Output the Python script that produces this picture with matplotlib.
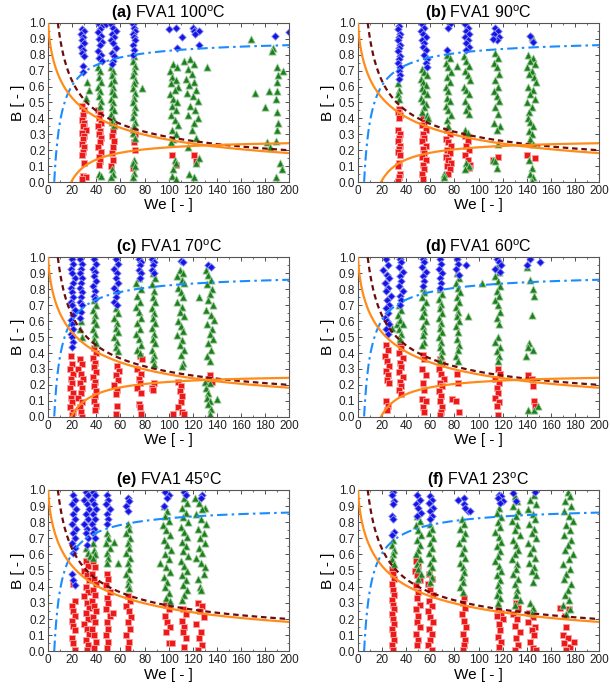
import numpy as np
import matplotlib
matplotlib.use("Agg")
import matplotlib.pyplot as plt
from matplotlib.ticker import MultipleLocator, FormatStrFormatter

plt.rcParams['font.family'] = ['Liberation Sans', 'DejaVu Sans']
plt.rcParams['mathtext.fontset'] = 'custom'
plt.rcParams['mathtext.rm'] = 'Liberation Sans'
plt.rcParams['mathtext.bf'] = 'Liberation Sans:bold'

letters = ['a', 'b', 'c', 'd', 'e', 'f']
temps = ['100', '90', '70', '60', '45', '23']

# ---------------- data (We, B) ----------------
a_blue = [(28,.96),(30,.95),(27,.93),(29,.91),(28,.89),(30,.87),(27,.85),(29,.83),(28,.81),(30,.79),(29,.73),(29,.69),
          (42,.99),(45,.98),(48,.99),(43,.96),(41,.94),(44,.92),(42,.90),(45,.88),(43,.86),(41,.82),(44,.80),(42,.78),(45,.76),
          (52,.99),(54,.97),(56,.95),(53,.93),(55,.91),(52,.89),(54,.87),(56,.84),(53,.81),(55,.79),(54,.76),(53,.74),
          (70,.99),(71,.97),(72,.95),(70,.93),(71,.91),(72,.89),(70,.86),(71,.83),(70,.80),
          (100,.96),(106,.97),(111,.91),(107,.84),(120,.97),(121,.95),(125,.95),(122,.93),(125,.86),(188,.92),(200,.94)]
a_green = [(32,.63),(34,.58),(31,.53),
           (41,.72),(43,.70),(42,.66),(44,.63),(41,.60),(43,.57),(42,.54),(44,.51),(43,.48),(42,.05),(44,.04),
           (52,.72),(54,.70),(53,.67),(55,.64),(52,.62),(54,.60),(53,.57),(55,.55),(52,.52),(54,.50),(53,.47),(55,.45),
           (52,.43),(54,.40),(53,.38),(55,.36),(53,.08),(54,.05),(52,.03),
           (71,.79),(70,.76),(72,.73),(71,.70),(70,.67),(72,.64),(71,.62),(70,.59),(72,.56),(71,.53),(70,.50),(72,.47),
           (71,.44),(70,.41),(72,.38),(71,.35),(70,.31),(72,.28),(71,.14),(70,.12),(72,.10),(71,.06),(70,.03),(78,.59),
           (101,.70),(104,.74),(107,.72),(103,.66),(106,.64),(102,.62),(108,.60),(105,.58),(101,.55),(104,.52),(107,.50),
           (103,.48),(106,.45),(102,.42),(105,.39),(108,.36),(103,.33),(106,.30),(104,.27),(102,.25),(105,.14),(106,.12),
           (104,.08),(103,.04),(106,.02),
           (113,.76),(118,.77),(121,.74),(116,.71),(119,.68),(114,.65),(121,.63),(117,.61),(123,.58),(115,.56),(120,.54),
           (124,.51),(118,.48),(122,.45),(116,.42),(124,.40),(121,.37),(119,.33),(123,.28),(116,.22),(125,.15),(123,.12),
           (117,.05),(121,.03),
           (132,.72),(168,.90),(172,.56),(180,.47),(183,.57),(182,.25),(184,.22),(187,.84),(186,.82),(190,.72),(191,.67),
           (190,.63),(190,.57),(189,.52),(190,.44),(191,.37),(190,.33),(189,.26),(189,.03),(195,.70),(192,.12),(194,.08)]
a_red = [(28,.48),(30,.45),(29,.42),(28,.39),(30,.37),(29,.35),(31,.33),(28,.31),(30,.29),(29,.27),(28,.24),(30,.22),
         (29,.19),(28,.17),(30,.12),(29,.04),(31,.03),(28,.02),
         (41,.45),(43,.43),(42,.40),(44,.37),(41,.35),(43,.32),(42,.30),(44,.28),(43,.25),(41,.22),(44,.19),(42,.16),
         (43,.13),(42,.11),
         (53,.38),(55,.35),(54,.32),(53,.29),(55,.26),(54,.22),(53,.18),(54,.14),(52,.10),
         (70,.33),(72,.30),(71,.25),(72,.20),(70,.09),
         (103,.17),(106,.11),(121,.17),(123,.13)]

b_blue = [(34,.98),(33,.96),(35,.93),(34,.91),(33,.89),(35,.86),(34,.84),(33,.82),(35,.79),(34,.77),(33,.75),(35,.72),
          (34,.70),(35,.67),(34,.65),
          (53,.99),(55,.97),(52,.95),(54,.93),(56,.91),(53,.89),(55,.87),(54,.85),(56,.83),(55,.80),(57,.77),(56,.75),(57,.72),
          (76,.99),(75,.97),(74,.83),
          (89,.99),(91,.97),(90,.95),(92,.93),(89,.91),(91,.89),(90,.87),(92,.85),(90,.83),
          (114,.97),(116,.95),(113,.93),(117,.91),(115,.89),(112,.90),(143,.92),(145,.88)]
b_green = [(33,.62),(34,.58),(33,.55),(34,.52),
           (53,.71),(55,.69),(57,.67),(52,.65),(54,.63),(56,.61),(53,.59),(55,.57),(57,.55),(52,.53),(54,.51),(56,.49),
           (55,.47),(53,.44),(57,.42),(58,.40),
           (74,.80),(76,.78),(73,.75),(75,.72),(77,.69),(74,.66),(76,.63),(73,.60),(75,.57),(74,.53),(76,.51),(73,.48),
           (75,.45),(77,.42),(74,.39),(75,.35),(71,.05),(71,.03),(82,.73),
           (88,.79),(90,.76),(92,.73),(89,.70),(91,.67),(93,.64),(88,.60),(90,.58),(92,.55),(89,.51),(91,.48),(90,.45),
           (92,.43),(89,.33),(91,.31),(90,.12),(92,.10),(89,.08),
           (114,.81),(116,.78),(113,.75),(115,.72),(117,.68),(114,.64),(116,.60),(113,.57),(115,.54),(117,.51),(114,.47),
           (116,.43),(113,.37),(118,.35),(115,.33),(112,.14),(114,.13),(115,.09),(116,.24),
           (141,.80),(145,.78),(143,.76),(147,.74),(140,.72),(144,.70),(142,.68),(146,.66),(148,.63),(141,.60),(145,.58),
           (143,.55),(147,.52),(140,.50),(144,.47),(142,.44),(141,.40),(143,.38),(145,.35),(142,.32),(144,.30),(143,.27),
           (145,.24),(142,.14),(144,.09),(143,.05),(145,.03),(144,.01),(144,.91)]
b_red = [(34,.46),(33,.44),(35,.42),(34,.40),(33,.33),(35,.30),(34,.28),(33,.26),(35,.23),(34,.21),(33,.19),(35,.17),
         (34,.12),(33,.10),(35,.05),(34,.03),(33,.01),
         (54,.41),(55,.38),(53,.36),(56,.33),(54,.30),(55,.28),(53,.26),(56,.23),(54,.21),(55,.18),(53,.16),(56,.14),
         (54,.11),(55,.08),(53,.05),(54,.02),
         (74,.33),(76,.30),(73,.27),(75,.25),(77,.23),(74,.20),(76,.18),(73,.16),(75,.14),(77,.12),(74,.10),(76,.08),(75,.05),
         (89,.29),(91,.26),(90,.23),(92,.20),(89,.17),(91,.14),(93,.11),(92,.09),
         (112,.14),(116,.16),(140,.17),(147,.15)]

c_blue = [(20,.99),(21,.96),(19,.93),(20,.90),(22,.87),(21,.84),(19,.81),(20,.78),(21,.75),(19,.72),(20,.70),(22,.67),
          (21,.64),(19,.61),(20,.58),(21,.55),(19,.52),(20,.50),(21,.47),(20,.44),
          (26,.99),(28,.96),(27,.93),(26,.90),(28,.87),(27,.84),(26,.81),(28,.78),(27,.75),(26,.72),(28,.70),(27,.66),(26,.62),
          (38,.99),(40,.96),(37,.93),(39,.91),(38,.88),(40,.85),(37,.82),(39,.79),(38,.76),(39,.74),
          (56,.99),(58,.96),(55,.93),(57,.90),(56,.87),(58,.84),(55,.81),(57,.78),(56,.75),(55,.72),(57,.70),
          (75,.99),(77,.97),(76,.95),(75,.92),(77,.90),(76,.87),
          (86,.99),(88,.97),(87,.95),(86,.92),(88,.90),(110,.98),(112,.97),(133,.95),(135,.94)]
c_green = [(27,.60),(26,.55),(28,.50),
           (38,.73),(40,.70),(37,.67),(39,.64),(38,.61),(40,.58),(37,.55),(39,.52),(38,.49),(40,.46),
           (56,.68),(58,.65),(55,.62),(57,.59),(56,.56),(58,.53),(55,.50),(57,.47),(56,.44),(58,.41),
           (75,.87),(73,.84),(77,.80),(74,.76),(76,.72),(73,.69),(75,.66),(77,.62),(74,.59),(76,.55),(73,.52),(75,.49),
           (77,.45),(74,.42),(76,.40),
           (87,.90),(89,.87),(86,.83),(88,.79),(87,.75),(89,.72),(86,.68),(88,.65),(87,.62),(89,.59),(86,.56),(88,.52),
           (87,.49),(89,.46),(86,.42),(88,.39),(87,.36),(88,.33),
           (109,.92),(112,.90),(107,.88),(111,.86),(113,.84),(108,.81),(110,.78),(112,.75),(107,.72),(111,.69),(109,.66),
           (113,.63),(108,.60),(110,.57),(112,.54),(107,.51),(111,.48),(109,.45),(113,.42),(110,.39),(112,.34),(111,.32),
           (131,.92),(133,.89),(135,.86),(132,.83),(136,.80),(134,.77),(125,.75),(133,.73),(137,.70),(131,.67),(135,.64),
           (138,.61),(132,.58),(136,.55),(134,.52),(137,.49),(133,.46),(135,.42),(132,.38),(134,.35),(130,.22),(131,.18),
           (133,.15),(132,.12),(134,.10),(133,.08),(135,.05),(134,.02),(140,.11),(134,.21)]
c_red = [(19,.38),(20,.33),(18,.30),(21,.27),(19,.24),(20,.21),(18,.18),(21,.15),(19,.12),(20,.09),(18,.06),(21,.03),(20,.01),
         (26,.36),(28,.33),(25,.30),(27,.27),(29,.24),(26,.21),(28,.18),(27,.15),(25,.12),(28,.09),(26,.06),(27,.03),(28,.00),
         (38,.43),(40,.40),(37,.37),(39,.34),(38,.31),(40,.28),(37,.25),(39,.22),(38,.19),(40,.16),(39,.13),(38,.10),
         (40,.07),(39,.04),
         (57,.32),(59,.29),(56,.26),(58,.23),(55,.20),(57,.17),(56,.14),(57,.07),(56,.02),
         (76,.38),(78,.36),(74,.30),(77,.27),(75,.24),(76,.21),(74,.18),(77,.15),(75,.08),(76,.06),(77,.02),
         (88,.21),(86,.18),(87,.17),
         (108,.22),(110,.19),(109,.16),(111,.13),(110,.09),(108,.06),(104,.02),(111,.03),(113,.02),
         (134,.26),(133,.24),(136,.22)]

d_blue = [(23,.99),(25,.95),(21,.92),(24,.89),(26,.87),(22,.84),(25,.81),(23,.79),(27,.76),(24,.73),(26,.70),(23,.68),
          (25,.65),(22,.62),(24,.60),(26,.58),(23,.55),(25,.52),
          (35,.99),(36,.97),(34,.94),(37,.91),(35,.88),(36,.85),(34,.82),(37,.79),(35,.76),(36,.73),(35,.70),
          (54,.99),(55,.97),(53,.94),(56,.91),(54,.88),(55,.85),(54,.82),
          (68,.99),(69,.96),(67,.93),(70,.90),(68,.87),(69,.84),(68,.81),
          (82,.99),(83,.96),(81,.93),(84,.89),(90,.95),
          (115,.99),(117,.97),(119,.95),(114,.93),(118,.91),(140,.95),(143,.99),(151,.97)]
d_green = [(28,.56),(32,.58),(34,.70),(36,.67),(33,.64),(35,.61),(37,.58),(34,.55),(36,.52),(35,.49),
           (54,.81),(55,.78),(53,.75),(56,.72),(54,.69),(55,.66),(53,.63),(56,.60),(54,.57),(55,.54),(54,.51),(55,.47),(53,.45),
           (68,.80),(70,.77),(67,.74),(69,.71),(68,.68),(70,.65),(67,.62),(69,.59),(68,.56),(70,.53),(67,.50),(69,.47),
           (68,.44),(70,.41),(69,.38),(68,.35),
           (82,.90),(84,.87),(81,.84),(83,.81),(85,.78),(82,.75),(84,.72),(81,.69),(83,.66),(82,.63),(84,.60),(81,.57),
           (83,.53),(82,.49),(84,.45),(83,.42),(81,.38),(83,.35),(91,.63),
           (115,.94),(117,.91),(114,.88),(116,.85),(118,.82),(115,.79),(117,.76),(114,.73),(116,.70),(118,.66),(115,.62),
           (117,.58),(116,.50),(114,.47),(118,.44),(115,.41),(117,.38),(116,.35),(103,.84),
           (140,.94),(143,.86),(145,.80),(146,.76),(144,.64),(142,.46),(141,.44),(145,.42),(139,.38),(141,.04),(146,.04),(149,.07)]
d_red = [(23,.45),(25,.42),(22,.38),(24,.35),(26,.32),(23,.29),(25,.26),(24,.23),(26,.21),(23,.10),(25,.07),(24,.04),
         (35,.46),(36,.43),(34,.40),(37,.37),(35,.34),(36,.31),(34,.28),(37,.25),(35,.22),(36,.19),(34,.17),(36,.14),
         (54,.39),(55,.36),(53,.30),(56,.26),(54,.21),(55,.17),(53,.11),(56,.10),(54,.06),(55,.03),
         (68,.36),(70,.33),(67,.30),(69,.27),(71,.24),(68,.21),(70,.19),(67,.16),(69,.13),(68,.10),(70,.06),(69,.03),(68,.01),
         (82,.27),(83,.21),(78,.11),(81,.10),(84,.03),
         (116,.30),(118,.27),(114,.24),(117,.21),(115,.18),(116,.15),(114,.12),(117,.09),(115,.07),(116,.01),
         (141,.26),(144,.24),(145,.19),(146,.10),(147,.07)]

e_blue = [(21,.97),(22,.94),(20,.91),(23,.88),(21,.85),(22,.82),(20,.79),(23,.76),(21,.73),(22,.70),(20,.67),(22,.64),
          (21,.61),(20,.48),(21,.44),(22,.41),
          (31,.99),(33,.97),(30,.94),(32,.91),(34,.88),(31,.85),(33,.82),(30,.79),(32,.76),(31,.73),(33,.70),(32,.66),
          (37,.99),(39,.97),(36,.94),(38,.91),(40,.88),(37,.85),(39,.82),(36,.79),(38,.76),(37,.73),(39,.70),
          (49,.97),(50,.94),(48,.91),(51,.88),(49,.85),(50,.82),(49,.79),
          (66,.95),(67,.93),(65,.90),(66,.87),
          (97,.99),(100,.97),(99,.95),(96,.90),(113,.99),(114,.97),(128,.97),(127,.95)]
e_green = [(31,.64),(33,.61),(35,.59),(37,.67),(38,.63),(39,.60),(37,.58),
           (49,.73),(50,.70),(48,.67),(51,.64),(49,.61),(50,.58),(49,.55),(55,.68),(58,.55),
           (66,.79),(67,.76),(65,.73),(68,.70),(66,.67),(67,.64),(65,.61),(68,.58),(66,.55),(67,.51),(65,.48),(67,.45),
           (66,.42),(67,.39),
           (96,.90),(99,.87),(97,.84),(100,.81),(95,.78),(98,.75),(101,.72),(96,.69),(99,.66),(102,.63),(97,.60),(100,.57),
           (93,.55),(98,.52),(101,.49),(96,.46),(99,.43),(97,.40),(100,.36),(98,.33),(101,.31),
           (113,.95),(115,.92),(111,.89),(114,.86),(112,.83),(116,.80),(110,.77),(113,.74),(115,.71),(111,.68),(114,.65),
           (112,.62),(116,.59),(110,.56),(113,.53),(115,.50),(111,.47),(114,.44),(112,.41),(115,.38),(113,.35),(111,.32),
           (122,.95),(125,.92),(130,.89),(128,.88),(123,.85),(127,.82),(131,.79),(124,.76),(129,.73),(126,.70),(130,.67),
           (125,.64),(128,.61),(123,.58),(127,.55),(130,.52),(129,.48),(124,.45),(126,.40),(127,.38)]
e_red = [(21,.42),(22,.31),(20,.28),(21,.25),(22,.22),(20,.19),(21,.16),(22,.13),(20,.08),(21,.05),(22,.01),
         (31,.56),(33,.53),(30,.50),(32,.47),(34,.44),(31,.40),(33,.37),(30,.34),(32,.30),(34,.27),(31,.24),(33,.20),
         (30,.17),(32,.14),(34,.11),(31,.07),(33,.04),(32,.01),
         (37,.56),(39,.52),(36,.48),(38,.45),(40,.42),(37,.38),(39,.35),(36,.31),(38,.28),(40,.25),(37,.21),(39,.18),
         (36,.14),(38,.10),(40,.06),(38,.02),
         (49,.48),(50,.45),(48,.41),(51,.37),(49,.33),(50,.30),(48,.26),(51,.22),(49,.18),(50,.14),(48,.10),(50,.06),
         (49,.02),(54,.24),
         (66,.34),(68,.31),(65,.28),(67,.25),(69,.21),(66,.18),(68,.14),(65,.10),(67,.06),(66,.02),
         (98,.29),(100,.26),(97,.22),(99,.18),(101,.15),(98,.12),(100,.05),(103,.05),
         (112,.26),(114,.23),(111,.19),(113,.15),(112,.12),(114,.08),(113,.03),
         (124,.30),(128,.28),(126,.25),(129,.21),(123,.17),(127,.12),(125,.08),(128,.04),(124,.01)]

f_blue = [(29,.99),(28,.97),(30,.93),(29,.91),(28,.84),(29,.82),(30,.74),(28,.72),
          (49,.97),(51,.94),(48,.91),(50,.89),(52,.86),(49,.84),
          (60,.96),(61,.94),(59,.92),(62,.89),(60,.87),(61,.84),(60,.82),
          (83,.94),(88,.95),(88,.91),(91,.87),(93,.87),(89,.89),
          (117,.97),(119,.96),(116,.95),(120,.93),(118,.92),(129,.98),(131,.93),(147,.99)]
f_green = [(29,.69),(28,.66),(30,.63),(29,.60),(28,.57),(30,.54),
           (49,.84),(51,.81),(48,.78),(50,.75),(52,.72),(49,.69),(51,.66),(50,.63),(48,.60),(51,.57),(49,.54),(50,.51),
           (52,.48),(50,.45),
           (60,.79),(61,.76),(59,.73),(62,.70),(60,.67),(61,.64),(59,.61),(62,.58),(60,.55),(61,.52),(59,.49),(61,.46),(60,.43),
           (86,.82),(88,.79),(85,.76),(89,.73),(87,.70),(84,.67),(88,.64),(86,.61),(89,.58),(85,.55),(87,.52),(88,.49),
           (86,.46),(87,.43),(85,.40),(87,.37),
           (117,.89),(115,.86),(119,.83),(116,.80),(118,.77),(114,.74),(117,.71),(119,.68),(115,.65),(118,.62),(116,.59),
           (114,.56),(117,.53),(119,.50),(115,.47),(118,.44),(116,.41),(117,.38),(115,.35),(118,.33),(116,.30),
           (130,.96),(132,.93),(129,.90),(133,.87),(131,.84),(128,.81),(132,.78),(130,.75),(134,.72),(129,.69),(131,.66),
           (133,.63),(130,.60),(128,.57),(132,.54),(131,.51),(129,.48),(133,.45),(130,.42),(132,.38),(131,.35),(134,.32),(130,.29),
           (146,.97),(143,.94),(148,.91),(141,.88),(145,.85),(147,.82),(142,.79),(146,.76),(144,.73),(148,.70),(141,.67),
           (145,.64),(143,.61),(147,.58),(142,.55),(146,.52),(144,.50),(148,.47),(145,.43),(143,.30),(145,.27),(144,.24),
           (174,.99),(176,.96),(172,.93),(177,.90),(171,.87),(175,.84),(178,.81),(173,.78),(176,.75),(171,.72),(177,.69),
           (174,.66),(172,.63),(178,.60),(175,.57),(170,.54),(176,.51),(173,.48),(171,.45),(177,.42),(174,.38),(172,.35),
           (175,.32),(170,.29),(176,.26),(173,.23)]
f_red = [(28,.51),(29,.48),(30,.45),(28,.42),(29,.38),(30,.35),(28,.32),(29,.29),(30,.26),(28,.23),(29,.20),(30,.17),
         (28,.14),(29,.11),(30,.07),(28,.04),(29,.01),
         (48,.56),(50,.53),(47,.50),(49,.47),(51,.44),(48,.41),(50,.37),(49,.33),(51,.29),(48,.26),(50,.22),(49,.18),
         (51,.15),(48,.11),(50,.07),(49,.04),
         (59,.48),(61,.45),(58,.42),(60,.38),(62,.35),(59,.31),(61,.28),(58,.25),(60,.21),(62,.18),(59,.14),(61,.11),
         (60,.07),(58,.04),(61,.01),
         (88,.33),(87,.30),(89,.27),(86,.23),(88,.19),(90,.15),(87,.11),(89,.07),(88,.04),(87,.01),
         (116,.26),(119,.24),(115,.22),(120,.20),(117,.17),(118,.13),(116,.09),(119,.06),(117,.03),
         (131,.30),(133,.27),(129,.23),(132,.20),(130,.16),(134,.12),(131,.08),(133,.04),(130,.01),
         (142,.24),(145,.21),(141,.18),(147,.15),(144,.13),(146,.10),(143,.06),(145,.02),(148,.01),
         (168,.27),(175,.26),(172,.22),(173,.15),(170,.10),(174,.08),(171,.05),(176,.03),(173,.01),(179,.06)]

blues = [a_blue, b_blue, c_blue, d_blue, e_blue, f_blue]
greens = [a_green, b_green, c_green, d_green, e_green, f_green]
reds = [a_red, b_red, c_red, d_red, e_red, f_red]
has_lower_orange = [True, True, True, True, False, False]

# ---------------- model curve parameters ----------------
blue_amp, blue_we0, blue_p = 0.907, 5.0, 0.8
dash_c = 2.83
dec_c, dec_p = 0.11, 0.7
inc_amp, inc_we0 = 0.27, 19.0

col_red = '#ee1a1a'
col_green = '#1b7f1b'
col_blue = '#1414e6'
col_orange = '#ff8c1a'
col_dash = '#6e0b0b'
col_dashdot = '#1a8cff'

fig = plt.figure(figsize=(6.1, 6.9), dpi=100)
lefts = [0.079, 0.587]
bottoms = [0.736, 0.396, 0.056]
heights = [0.231, 0.231, 0.234]

for i in range(6):
    r, c = divmod(i, 2)
    ax = fig.add_axes([lefts[c], bottoms[r], 0.395, heights[r]])
    for data, mk, col, edge, s in [(reds[i], 's', col_red, '#f7a0a0', 20),
                                   (greens[i], '^', col_green, '#9cc89c', 27),
                                   (blues[i], 'D', col_blue, '#9a9af2', 15)]:
        arr = np.array(data)
        ax.scatter(arr[:, 0], arr[:, 1], marker=mk, s=s, c=col,
                   edgecolors=edge, linewidths=0.6, zorder=2, clip_on=True)

    we = np.linspace(0.01, 200, 800)
    wb = we[we >= blue_we0]
    ax.plot(wb, blue_amp * (1 - (blue_we0 / wb) ** blue_p), color=col_dashdot,
            lw=1.5, ls=(0, (5, 2, 1.2, 2)), zorder=3)
    wd = we[we >= dash_c ** 2]
    ax.plot(wd, dash_c / np.sqrt(wd), color=col_dash, lw=1.6,
            ls=(0, (2.5, 1.7)), zorder=3)
    ax.plot(we, 1.0 / (1 + dec_c * we ** dec_p), color=col_orange, lw=1.6, zorder=3)
    if has_lower_orange[i]:
        wi = we[we >= inc_we0]
        ax.plot(wi, inc_amp * (1 - inc_we0 / wi), color=col_orange, lw=1.6, zorder=3)

    ax.set_xlim(0, 200)
    ax.set_ylim(0, 1)
    ax.xaxis.set_major_locator(MultipleLocator(20))
    ax.xaxis.set_minor_locator(MultipleLocator(10))
    ax.yaxis.set_major_locator(MultipleLocator(0.1))
    ax.yaxis.set_minor_locator(MultipleLocator(0.05))
    ax.yaxis.set_major_formatter(FormatStrFormatter('%.1f'))
    ax.tick_params(which='both', direction='in', top=True, right=True,
                   labelsize=8.5, colors='#333333', labelcolor='#222222', pad=2)
    ax.tick_params(which='major', length=3, width=0.6)
    ax.tick_params(which='minor', length=1.6, width=0.5)
    for sp in ax.spines.values():
        sp.set_color('#555555')
        sp.set_linewidth(0.8)
    ax.set_xlabel('We [ - ]', fontsize=11, labelpad=1)
    ax.set_ylabel('B [ - ]', fontsize=11, labelpad=3)
    ax.set_title(r'$\mathbf{(' + letters[i] + r')}$ FVA1 ' + temps[i] + r'$^{\rm o}$C',
                 fontsize=11.5, pad=3)

fig.savefig('out.png', dpi=100)
